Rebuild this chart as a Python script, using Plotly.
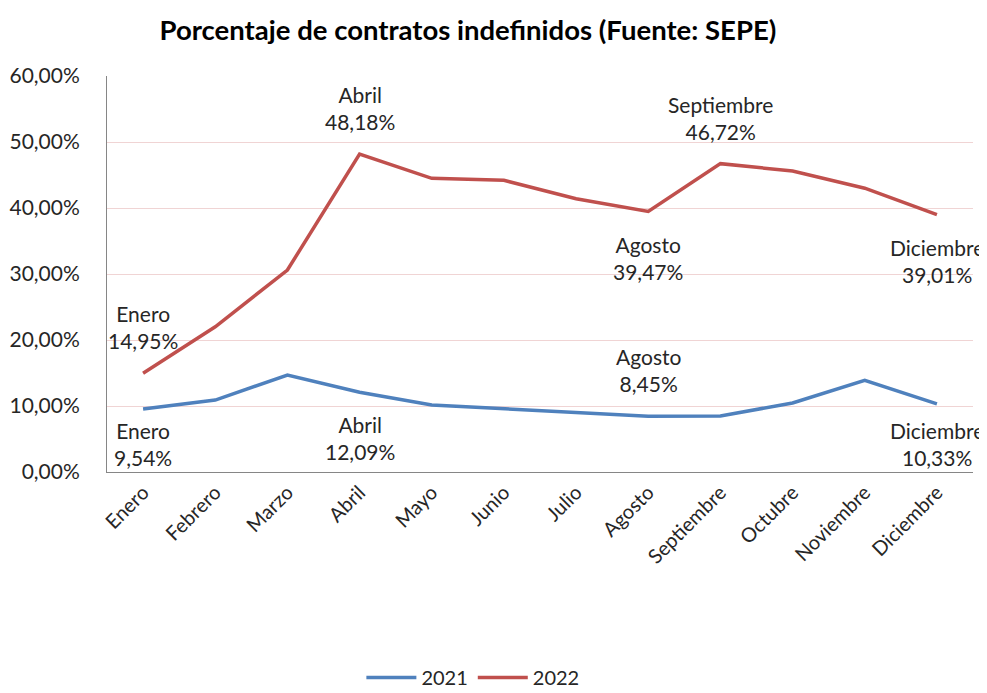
import plotly.graph_objects as go

meses = ["Enero", "Febrero", "Marzo", "Abril", "Mayo", "Junio", "Julio",
         "Agosto", "Septiembre", "Octubre", "Noviembre", "Diciembre"]
v2021 = [9.54, 10.9, 14.7, 12.09, 10.15, 9.6, 9.0, 8.45, 8.5, 10.45, 13.9, 10.33]
v2022 = [14.95, 22.0, 30.6, 48.18, 44.5, 44.2, 41.4, 39.47, 46.72, 45.6, 43.0, 39.01]

# labelled points: (month index, position)
etiquetas_2021 = [(0, "below"), (3, "below"), (7, "above"), (11, "below")]
etiquetas_2022 = [(0, "above"), (3, "above"), (7, "below"), (8, "above"), (11, "below")]

AZUL = "#4F81BD"
ROJO = "#C0504D"
FONT = "Lato"

# layout geometry (the page adds an 8px body margin)
W, H = 987, 693
ML, MR, MT, MB = 99, 22, 68, 229
PLOT_H = H - MT - MB
YMAX = 60.0
LABEL_H = 56   # height of a two-line label, px
GAP = 22

fig = go.Figure()
fig.add_trace(go.Scatter(x=meses, y=v2021, mode="lines", name="2021",
                         line=dict(color=AZUL, width=3.5)))
fig.add_trace(go.Scatter(x=meses, y=v2022, mode="lines", name="2022",
                         line=dict(color=ROJO, width=3.5)))

def fmt(v):
    return f"{v:.2f}".replace(".", ",") + "%"

anns = []
for serie, etiquetas in ((v2021, etiquetas_2021), (v2022, etiquetas_2022)):
    for i, pos in etiquetas:
        v = serie[i]
        a = dict(x=meses[i], xref="x", yref="y",
                 text=f"{meses[i]}<br>{fmt(v)}", showarrow=False,
                 font=dict(family=FONT, size=21, color="#262626"),
                 align="center")
        if pos == "above":
            a.update(y=v, yanchor="bottom", yshift=GAP - 4)
        else:
            px_above_axis = v / YMAX * PLOT_H
            if px_above_axis - GAP - LABEL_H < 0:
                a.update(y=0, yanchor="bottom", yshift=0)
            else:
                a.update(y=v, yanchor="top", yshift=-GAP + 4)
        anns.append(a)

fig.update_layout(
    width=W, height=H,
    paper_bgcolor="white", plot_bgcolor="white",
    separators=",.",
    font=dict(family=FONT, size=19, color="#262626"),
    title=dict(text="<b>Porcentaje de contratos indefinidos (Fuente: SEPE)</b>",
               x=0.466, xanchor="center", y=0.968, yanchor="middle",
               yref="container",
               font=dict(family=FONT, size=27.5, color="black")),
    margin=dict(l=ML, r=MR, t=MT, b=MB, autoexpand=False),
    showlegend=True,
    legend=dict(orientation="h", x=0.471, xanchor="center", xref="container",
                y=0.034, yref="container", yanchor="middle",
                font=dict(family=FONT, size=20, color="#262626"),
                itemwidth=50),
    annotations=anns,
)
fig.update_xaxes(type="category", range=[-0.5, 11.5], tickangle=-45,
                 showline=True, linecolor="#868686", linewidth=1,
                 showgrid=False, ticks="", tickfont=dict(size=20),
                 automargin=False)
fig.update_yaxes(range=[0, YMAX], dtick=10, tickformat=".2f", ticksuffix="%",
                 showline=True, linecolor="#868686", linewidth=1,
                 gridcolor="#F0D4D4", gridwidth=1, zeroline=False,
                 tickfont=dict(size=21), ticklabelstandoff=22,
                 automargin=False)

fig.write_html("out.html")
